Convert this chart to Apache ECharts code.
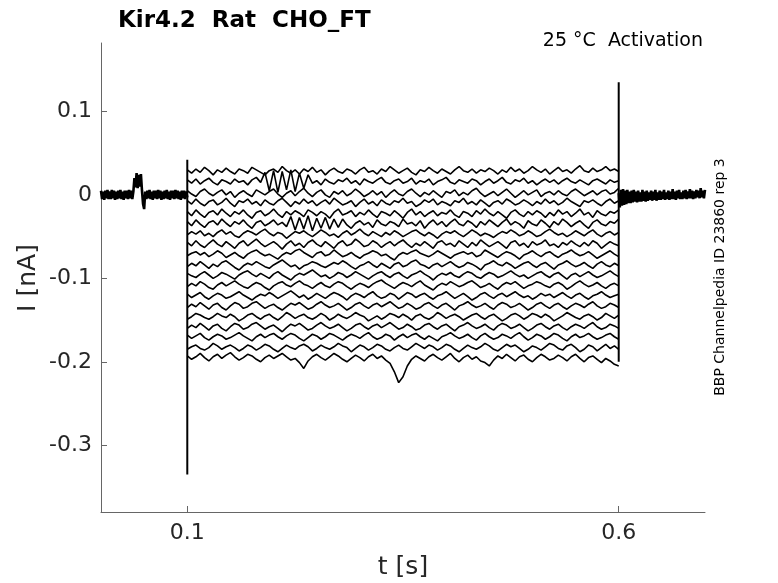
<!DOCTYPE html>
<html>
<head>
<meta charset="utf-8">
<script src="https://cdn.jsdelivr.net/npm/echarts@6/dist/echarts.min.js"></script>
<style>html,body{margin:0;padding:0;background:#fff;}#chart{width:778px;height:583px;}</style>
</head>
<body>
<div id="chart"></div>
<script>
// time samples during the voltage step [s]
const T = [.1,.105,.11,.115,.12,.125,.13,.135,.14,.145,
.15,.155,.16,.165,.17,.175,.18,.185,.19,.195,
.2,.205,.21,.215,.22,.225,.23,.235,.24,.245,
.25,.255,.26,.265,.27,.275,.28,.285,.29,.295,
.3,.305,.31,.315,.32,.325,.33,.335,.34,.345,
.35,.355,.36,.365,.37,.375,.38,.385,.39,.395,
.4,.405,.41,.415,.42,.425,.43,.435,.44,.445,
.45,.455,.46,.465,.47,.475,.48,.485,.49,.495,
.5,.505,.51,.515,.52,.525,.53,.535,.54,.545,
.55,.555,.56,.565,.57,.575,.58,.585,.59,.595,.6];

// time samples before / after the step [s]
const tPre = [0,.00125,.0025,.00375,.005,.00625,.0075,.00875,
.01,.01125,.0125,.01375,.015,.01625,.0175,.01875,
.02,.02125,.0225,.02375,.025,.02625,.0275,.02875,
.03,.03125,.0325,.03375,.035,.03625,.0375,.03875,
.04,.04125,.0425,.04375,.045,.04625,.0475,.04875,
.05,.05125,.0525,.05375,.055,.05625,.0575,.05875,
.06,.06125,.0625,.06375,.065,.06625,.0675,.06875,
.07,.07125,.0725,.07375,.075,.07625,.0775,.07875,
.08,.08125,.0825,.08375,.085,.08625,.0875,.08875,
.09,.09125,.0925,.09375,.095,.09625,.0975,.09875,.1];
const basePre = [.005,-.005,.004,-.006,.005,-.004,.006,-.005,.004,-.005,
.006,-.004,.005,-.006,.004,-.005,.005,-.004,.006,-.005,
.004,-.006,.005,-.004,.005,-.005,.006,-.004,.005,-.005,
.004,.020,.009,.026,.008,.024,.010,.025,.005,-.011,
-.017,.004,-.005,.005,-.004,.006,-.005,.004,-.006,.005,
-.004,.005,-.005,.006,-.004,.005,-.006,.004,-.005,.005,
-.004,.006,-.005,.004,-.006,.005,-.004,.005,-.005,.006,
-.004,.005,-.005,.004,-.006,.005,-.004,.005,-.005,.004,-.003];

const tPost = [.6,.60125,.6025,.60375,.605,.60625,.6075,.60875,
.61,.61125,.6125,.61375,.615,.61625,.6175,.61875,
.62,.62125,.6225,.62375,.625,.62625,.6275,.62875,
.63,.63125,.6325,.63375,.635,.63625,.6375,.63875,
.64,.64125,.6425,.64375,.645,.64625,.6475,.64875,
.65,.65125,.6525,.65375,.655,.65625,.6575,.65875,
.66,.66125,.6625,.66375,.665,.66625,.6675,.66875,
.67,.67125,.6725,.67375,.675,.67625,.6775,.67875,
.68,.68125,.6825,.68375,.685,.68625,.6875,.68875,
.69,.69125,.6925,.69375,.695,.69625,.6975,.69875,.7];
const basePost = [.002,-.015,.006,-.013,.007,-.012,.005,-.011,.006,-.010,
.004,-.010,.005,-.009,.006,-.008,.004,-.009,.005,-.008,
.003,-.008,.006,-.007,.004,-.008,.005,-.007,.003,-.006,
.005,-.007,.004,-.006,.006,-.007,.003,-.006,.005,-.006,
.004,-.005,.006,-.006,.003,-.005,.005,-.006,.004,-.005,
.007,-.005,.004,-.006,.005,-.004,.006,-.005,.003,-.005,
.005,-.004,.006,-.005,.004,-.004,.007,-.004,.005,-.005,
.004,-.004,.006,-.003,.005,-.004,.008,-.003,.005,-.004,.006];

// current sweeps during the step [nA]
const sweep01 = [.030,.026,.031,.027,.033,.029,.024,.030,.027,.032,
.028,.025,.031,.029,.026,.033,.030,.027,.024,.029,
.031,.027,.034,.029,.026,.030,.025,.031,.028,.033,
.027,.030,.024,.029,.032,.028,.026,.031,.029,.025,
.030,.033,.027,.029,.025,.031,.028,.034,.030,.026,
.029,.032,.027,.024,.030,.028,.033,.029,.026,.031,
.028,.025,.030,.034,.029,.027,.031,.026,.030,.028,
.032,.029,.025,.030,.027,.033,.028,.031,.026,.029,
.034,.030,.027,.031,.025,.029,.033,.028,.030,.026,
.031,.035,.029,.027,.032,.028,.030,.034,.029,.031,.028];
const sweep02 = [.018,.014,.019,.013,.017,.020,.015,.012,.018,.016,
.013,.019,.015,.017,.012,.018,.021,.015,.027,.005,
.029,.003,.028,.006,.030,.004,.026,.008,.024,.014,
.017,.012,.019,.015,.013,.018,.016,.020,.014,.017,
.012,.019,.016,.014,.018,.021,.015,.013,.017,.019,
.014,.016,.020,.013,.017,.015,.019,.012,.016,.018,
.021,.015,.013,.018,.016,.014,.019,.017,.012,.016,
.019,.014,.017,.021,.015,.013,.018,.016,.020,.014,
.017,.012,.016,.019,.015,.018,.013,.017,.020,.016,
.014,.018,.015,.012,.017,.019,.016,.013,.018,.015,.017];
const sweep03 = [.005,.001,-.002,.004,.007,.002,-.001,.003,.006,.000,
.004,-.003,.002,.005,.001,-.002,.006,.003,.000,.004,
.007,.001,-.003,.002,.005,-.001,.004,.008,.002,-.002,
.003,.006,.000,-.003,.004,.001,.005,-.001,.002,.007,
.003,-.002,.001,.005,.000,.004,-.003,.002,.006,.001,
-.001,.004,.007,.002,-.002,.003,.000,.005,.001,-.003,
.004,.002,.006,-.001,.003,.000,.005,.008,.002,-.002,
.001,.004,-.001,.003,.007,.002,-.003,.001,.005,.000,
.003,.006,-.002,.002,.004,.000,.005,.001,-.001,.004,
.007,.003,-.001,.002,.005,.000,.004,.006,.001,.003,.008];
const sweep04 = [-.007,-.011,-.005,-.010,-.013,-.008,-.006,-.012,-.009,-.004,
-.010,-.014,-.007,-.009,-.005,-.011,-.008,-.013,-.006,-.010,
-.012,-.007,-.004,-.009,-.014,-.008,-.011,-.005,-.010,-.007,
-.013,-.009,-.006,-.011,-.004,-.008,-.012,-.010,-.007,-.014,
-.009,-.005,-.011,-.008,-.013,-.006,-.010,-.012,-.007,-.009,
-.004,-.010,-.008,-.014,-.011,-.006,-.009,-.005,-.012,-.008,
-.010,-.013,-.007,-.009,-.004,-.011,-.008,-.012,-.006,-.010,
-.014,-.009,-.007,-.011,-.005,-.008,-.012,-.010,-.006,-.009,
-.013,-.008,-.011,-.005,-.010,-.007,-.012,-.009,-.004,-.008,
-.011,-.014,-.007,-.009,-.006,-.010,-.013,-.008,-.005,-.010,-.007];
const sweep05 = [-.020,-.025,-.018,-.023,-.027,-.021,-.019,-.024,-.017,-.022,
-.026,-.020,-.023,-.018,-.024,-.028,-.021,-.019,-.025,-.022,
-.017,-.023,-.027,-.020,-.024,-.019,-.022,-.026,-.018,-.021,
-.025,-.020,-.023,-.028,-.021,-.017,-.024,-.022,-.019,-.026,
-.021,-.024,-.018,-.023,-.027,-.020,-.022,-.025,-.019,-.023,
-.028,-.021,-.017,-.024,-.020,-.026,-.022,-.019,-.025,-.021,
-.023,-.018,-.024,-.027,-.020,-.022,-.026,-.019,-.023,-.017,
-.022,-.025,-.020,-.024,-.028,-.021,-.018,-.023,-.026,-.020,
-.024,-.019,-.022,-.027,-.021,-.025,-.018,-.023,-.020,-.026,
-.022,-.017,-.024,-.021,-.027,-.019,-.023,-.025,-.020,-.022,-.018];
const sweep06 = [-.032,-.037,-.030,-.035,-.039,-.033,-.031,-.036,-.029,-.034,
-.038,-.032,-.035,-.030,-.036,-.040,-.033,-.031,-.037,-.034,
-.030,-.036,-.033,-.038,-.026,-.042,-.027,-.041,-.025,-.043,
-.028,-.040,-.027,-.041,-.029,-.039,-.029,-.036,-.040,-.034,
-.031,-.036,-.033,-.039,-.030,-.035,-.037,-.032,-.034,-.038,
-.029,-.035,-.033,-.037,-.031,-.040,-.034,-.030,-.036,-.032,
-.038,-.033,-.029,-.035,-.037,-.031,-.034,-.039,-.032,-.036,
-.030,-.034,-.038,-.033,-.029,-.036,-.032,-.035,-.040,-.031,
-.035,-.037,-.030,-.034,-.039,-.032,-.036,-.029,-.033,-.038,
-.034,-.031,-.036,-.040,-.033,-.030,-.035,-.037,-.032,-.034,-.029];
const sweep07 = [-.048,-.044,-.047,-.043,-.049,-.046,-.050,-.045,-.042,-.047,
-.044,-.049,-.051,-.046,-.043,-.045,-.048,-.044,-.041,-.046,
-.049,-.045,-.047,-.052,-.048,-.044,-.046,-.043,-.047,-.050,
-.046,-.042,-.045,-.049,-.047,-.051,-.046,-.043,-.048,-.045,
-.041,-.046,-.049,-.044,-.047,-.050,-.045,-.048,-.043,-.046,
-.050,-.047,-.044,-.042,-.046,-.049,-.045,-.048,-.052,-.047,
-.044,-.046,-.043,-.047,-.050,-.046,-.042,-.045,-.049,-.046,
-.048,-.051,-.047,-.044,-.046,-.042,-.045,-.049,-.047,-.043,
-.046,-.050,-.048,-.044,-.041,-.045,-.048,-.046,-.050,-.047,
-.043,-.046,-.049,-.045,-.042,-.047,-.050,-.046,-.044,-.048,-.045];
const sweep08 = [-.057,-.061,-.055,-.060,-.063,-.058,-.054,-.059,-.062,-.056,
-.060,-.064,-.058,-.055,-.061,-.057,-.053,-.058,-.062,-.059,
-.056,-.060,-.065,-.059,-.055,-.061,-.058,-.063,-.057,-.054,
-.059,-.062,-.056,-.060,-.064,-.058,-.055,-.061,-.059,-.053,
-.057,-.062,-.060,-.055,-.058,-.063,-.059,-.056,-.061,-.057,
-.054,-.059,-.063,-.058,-.061,-.056,-.060,-.064,-.057,-.055,
-.060,-.058,-.062,-.055,-.059,-.063,-.057,-.061,-.054,-.058,
-.062,-.059,-.056,-.060,-.064,-.057,-.055,-.061,-.058,-.063,
-.056,-.060,-.058,-.054,-.061,-.059,-.063,-.057,-.060,-.055,
-.059,-.062,-.057,-.061,-.055,-.058,-.064,-.060,-.056,-.059,-.061];
const sweep09 = [-.073,-.070,-.068,-.072,-.069,-.074,-.071,-.067,-.070,-.075,
-.072,-.069,-.073,-.076,-.071,-.068,-.066,-.070,-.073,-.071,
-.074,-.077,-.072,-.069,-.071,-.067,-.065,-.069,-.072,-.075,
-.070,-.068,-.073,-.071,-.066,-.070,-.074,-.072,-.069,-.073,
-.076,-.072,-.070,-.067,-.069,-.073,-.071,-.075,-.078,-.072,
-.069,-.071,-.068,-.066,-.070,-.072,-.074,-.071,-.067,-.070,
-.073,-.076,-.072,-.070,-.068,-.071,-.069,-.074,-.072,-.066,
-.069,-.072,-.075,-.071,-.068,-.070,-.073,-.077,-.072,-.070,
-.067,-.071,-.074,-.070,-.068,-.072,-.075,-.071,-.069,-.066,
-.070,-.073,-.071,-.068,-.072,-.076,-.073,-.070,-.067,-.071,-.074];
const sweep10 = [-.086,-.082,-.085,-.080,-.084,-.088,-.083,-.086,-.081,-.079,
-.083,-.087,-.090,-.085,-.082,-.084,-.080,-.083,-.086,-.088,
-.084,-.081,-.078,-.082,-.086,-.084,-.089,-.085,-.083,-.080,
-.082,-.085,-.087,-.084,-.081,-.083,-.079,-.082,-.086,-.089,
-.085,-.083,-.080,-.084,-.087,-.082,-.085,-.088,-.083,-.081,
-.086,-.084,-.080,-.078,-.083,-.085,-.088,-.084,-.082,-.086,
-.083,-.080,-.084,-.087,-.085,-.081,-.083,-.086,-.090,-.084,
-.082,-.079,-.083,-.085,-.081,-.084,-.088,-.085,-.082,-.080,
-.084,-.087,-.083,-.081,-.085,-.089,-.084,-.082,-.079,-.083,
-.086,-.084,-.081,-.085,-.088,-.083,-.080,-.084,-.086,-.082,-.085];
const sweep11 = [-.094,-.097,-.099,-.095,-.092,-.096,-.100,-.097,-.093,-.095,
-.098,-.101,-.096,-.093,-.091,-.095,-.098,-.094,-.097,-.100,
-.095,-.092,-.096,-.099,-.102,-.097,-.094,-.096,-.093,-.090,
-.094,-.098,-.096,-.100,-.097,-.093,-.095,-.099,-.096,-.092,
-.095,-.098,-.101,-.097,-.094,-.092,-.096,-.099,-.095,-.093,
-.097,-.100,-.096,-.094,-.091,-.095,-.098,-.102,-.097,-.094,
-.096,-.093,-.097,-.099,-.095,-.092,-.094,-.098,-.100,-.096,
-.093,-.095,-.099,-.097,-.094,-.091,-.095,-.098,-.096,-.100,
-.097,-.094,-.092,-.096,-.099,-.095,-.093,-.097,-.101,-.096,
-.094,-.098,-.095,-.092,-.096,-.099,-.097,-.094,-.091,-.095,-.098];
const sweep12 = [-.110,-.106,-.109,-.104,-.107,-.111,-.113,-.108,-.105,-.109,
-.106,-.103,-.107,-.110,-.112,-.108,-.105,-.107,-.111,-.114,
-.109,-.106,-.104,-.108,-.110,-.106,-.103,-.107,-.109,-.112,
-.108,-.105,-.109,-.111,-.107,-.104,-.106,-.110,-.113,-.109,
-.106,-.108,-.111,-.107,-.104,-.102,-.106,-.109,-.112,-.108,
-.105,-.107,-.110,-.106,-.103,-.108,-.111,-.114,-.109,-.106,
-.108,-.104,-.107,-.110,-.108,-.105,-.103,-.107,-.111,-.109,
-.106,-.110,-.113,-.108,-.105,-.107,-.104,-.108,-.112,-.109,
-.107,-.104,-.106,-.109,-.111,-.107,-.105,-.108,-.113,-.110,
-.106,-.103,-.107,-.110,-.108,-.105,-.109,-.112,-.108,-.106,-.109];
const sweep13 = [-.119,-.123,-.120,-.117,-.122,-.125,-.121,-.118,-.120,-.124,
-.122,-.119,-.116,-.120,-.123,-.126,-.122,-.119,-.121,-.117,
-.120,-.124,-.121,-.118,-.115,-.119,-.123,-.120,-.125,-.122,
-.118,-.121,-.124,-.120,-.117,-.119,-.122,-.126,-.121,-.118,
-.120,-.123,-.119,-.116,-.121,-.124,-.122,-.118,-.120,-.125,
-.121,-.117,-.119,-.123,-.120,-.118,-.122,-.125,-.121,-.119,
-.116,-.120,-.124,-.121,-.118,-.122,-.126,-.123,-.119,-.117,
-.121,-.124,-.120,-.118,-.122,-.119,-.116,-.120,-.123,-.121,
-.125,-.122,-.118,-.121,-.119,-.123,-.120,-.117,-.121,-.124,
-.120,-.118,-.122,-.125,-.121,-.119,-.116,-.120,-.123,-.121,-.119];
const sweep14 = [-.135,-.131,-.134,-.129,-.133,-.137,-.132,-.130,-.135,-.138,
-.133,-.129,-.131,-.136,-.134,-.130,-.128,-.132,-.136,-.133,
-.131,-.135,-.138,-.134,-.130,-.132,-.129,-.133,-.137,-.135,
-.131,-.128,-.132,-.135,-.133,-.130,-.134,-.138,-.135,-.131,
-.129,-.133,-.136,-.132,-.130,-.134,-.131,-.128,-.132,-.136,
-.134,-.130,-.133,-.137,-.135,-.131,-.129,-.133,-.136,-.132,
-.130,-.134,-.138,-.133,-.131,-.128,-.132,-.135,-.133,-.130,
-.134,-.137,-.132,-.129,-.131,-.135,-.133,-.130,-.134,-.138,
-.135,-.131,-.129,-.133,-.136,-.132,-.130,-.134,-.137,-.133,
-.130,-.132,-.135,-.131,-.128,-.133,-.136,-.134,-.130,-.132,-.135];
const sweep15 = [-.149,-.146,-.142,-.144,-.147,-.149,-.146,-.142,-.145,-.147,-.143,
-.146,-.151,-.148,-.144,-.142,-.146,-.149,-.145,-.143,-.147,
-.150,-.146,-.141,-.144,-.148,-.145,-.143,-.147,-.149,-.146,
-.142,-.145,-.150,-.147,-.143,-.146,-.148,-.145,-.141,-.144,
-.146,-.151,-.148,-.145,-.149,-.146,-.142,-.144,-.147,-.143,
-.146,-.150,-.145,-.143,-.147,-.149,-.146,-.141,-.144,-.148,
-.145,-.143,-.146,-.150,-.147,-.144,-.142,-.146,-.149,-.145,
-.143,-.147,-.151,-.148,-.144,-.142,-.145,-.149,-.146,-.142,
-.144,-.147,-.143,-.146,-.151,-.148,-.145,-.141,-.144,-.147,
-.149,-.145,-.143,-.146,-.150,-.147,-.142,-.145,-.148,-.144];
const sweep16 = [-.160,-.156,-.159,-.154,-.158,-.162,-.157,-.155,-.160,-.163,
-.158,-.154,-.156,-.161,-.159,-.155,-.153,-.157,-.161,-.158,
-.156,-.160,-.164,-.159,-.155,-.157,-.154,-.158,-.162,-.160,
-.156,-.153,-.157,-.160,-.158,-.155,-.159,-.163,-.160,-.156,
-.154,-.158,-.161,-.157,-.155,-.159,-.156,-.153,-.157,-.161,
-.159,-.155,-.158,-.162,-.160,-.156,-.154,-.158,-.161,-.157,
-.155,-.159,-.163,-.158,-.156,-.153,-.157,-.160,-.158,-.155,
-.159,-.162,-.157,-.154,-.156,-.160,-.158,-.155,-.159,-.163,
-.160,-.156,-.154,-.158,-.161,-.157,-.155,-.159,-.162,-.158,
-.155,-.157,-.160,-.156,-.153,-.158,-.161,-.159,-.155,-.157,-.160];
const sweep17 = [-.168,-.172,-.169,-.166,-.171,-.174,-.170,-.167,-.169,-.173,
-.171,-.168,-.165,-.169,-.172,-.175,-.170,-.167,-.171,-.168,
-.166,-.170,-.173,-.169,-.166,-.168,-.172,-.175,-.171,-.167,
-.169,-.173,-.170,-.166,-.168,-.171,-.174,-.170,-.167,-.169,
-.172,-.168,-.165,-.170,-.173,-.171,-.167,-.169,-.174,-.170,
-.167,-.171,-.168,-.166,-.170,-.173,-.169,-.172,-.175,-.170,
-.168,-.165,-.169,-.172,-.170,-.167,-.171,-.174,-.169,-.166,
-.170,-.173,-.171,-.167,-.169,-.172,-.168,-.165,-.170,-.174,
-.171,-.167,-.169,-.173,-.170,-.166,-.168,-.172,-.175,-.170,
-.167,-.171,-.169,-.166,-.170,-.173,-.171,-.168,-.166,-.170,-.173];
const sweep18 = [-.185,-.182,-.180,-.184,-.186,-.183,-.178,-.181,-.185,-.182,-.180,
-.183,-.187,-.184,-.180,-.182,-.186,-.183,-.179,-.181,-.185,
-.188,-.184,-.180,-.183,-.185,-.181,-.179,-.182,-.187,-.184,
-.180,-.183,-.185,-.182,-.178,-.181,-.183,-.188,-.184,-.180,
-.182,-.186,-.183,-.179,-.181,-.185,-.187,-.183,-.180,-.184,
-.186,-.182,-.178,-.181,-.184,-.180,-.182,-.186,-.183,-.179,
-.181,-.185,-.188,-.184,-.180,-.183,-.185,-.182,-.178,-.181,
-.185,-.187,-.183,-.179,-.182,-.180,-.184,-.188,-.185,-.181,
-.183,-.186,-.182,-.178,-.180,-.184,-.186,-.181,-.179,-.183,
-.188,-.185,-.180,-.182,-.187,-.183,-.179,-.184,-.181,-.185];
const sweep19 = [-.193,-.197,-.194,-.190,-.195,-.199,-.194,-.191,-.196,-.192,
-.189,-.194,-.198,-.195,-.191,-.193,-.197,-.200,-.195,-.192,
-.196,-.193,-.190,-.194,-.198,-.196,-.201,-.208,-.199,-.194,
-.191,-.195,-.198,-.194,-.190,-.193,-.197,-.200,-.196,-.192,
-.195,-.199,-.194,-.191,-.196,-.193,-.198,-.202,-.212,-.225,
-.218,-.205,-.197,-.193,-.196,-.199,-.194,-.191,-.195,-.198,
-.194,-.190,-.196,-.200,-.195,-.192,-.197,-.194,-.199,-.201,
-.205,-.198,-.193,-.196,-.191,-.195,-.199,-.194,-.192,-.197,
-.200,-.195,-.191,-.194,-.198,-.196,-.192,-.195,-.199,-.194,
-.191,-.196,-.200,-.195,-.193,-.197,-.201,-.196,-.199,-.203,-.205];
const sweeps = [sweep01,sweep02,sweep03,sweep04,sweep05,sweep06,sweep07,sweep08,sweep09,sweep10,
  sweep11,sweep12,sweep13,sweep14,sweep15,sweep16,sweep17,sweep18,sweep19];

// capacitive transients at step on / off
const spikeOnT = [0.1, 0.1];
const spikeOnI = [0.042, -0.335];
const spikeOffT = [0.6, 0.6];
const spikeOffI = [-0.2, 0.135];

// axis ticks
const xTicks = [0.1, 0.6];
const yTicks = [-0.3, -0.2, -0.1, 0, 0.1];

const FONT = '"DejaVu Sans", "Liberation Sans", sans-serif';
function pairs(t, v) { return t.map((x, i) => [x, v[i]]); }
function line(data, w) {
  return { type: 'line', data: data, showSymbol: false, symbol: 'none', silent: true,
    lineStyle: { color: '#000', width: w }, itemStyle: { color: '#000' }, animation: false };
}

const series = [];
sweeps.forEach(s => series.push(line(pairs(T, s), 1.6)));
series.push(line(pairs(tPre, basePre), 2.6));
series.push(line(pairs(tPost, basePost), 2.6));
series.push(line(pairs(spikeOnT, spikeOnI), 2));
series.push(line(pairs(spikeOffT, spikeOffI), 2));

const chart = echarts.init(document.getElementById('chart'), null, { renderer: 'canvas' });
chart.setOption({
  animation: false,
  backgroundColor: '#fff',
  title: {
    text: 'Kir4.2  Rat  CHO_FT', left: 113, top: 5,
    textStyle: { fontFamily: FONT, fontSize: 23, fontWeight: 'bold', color: '#000' }
  },
  grid: { left: 101, right: 73, top: 43, bottom: 71, containLabel: false, outerBoundsMode: 'none' },
  xAxis: {
    type: 'value', min: 0, max: 0.7,
    axisLine: { show: true, onZero: false, lineStyle: { color: '#666', width: 1 } },
    axisTick: { show: true, inside: true, length: 6, customValues: xTicks, lineStyle: { color: '#666' } },
    axisLabel: { customValues: xTicks, fontFamily: FONT, fontSize: 22, color: '#262626', margin: 10 },
    splitLine: { show: false }
  },
  yAxis: {
    type: 'value', min: -0.38, max: 0.182,
    axisLine: { show: true, onZero: false, lineStyle: { color: '#666', width: 1 } },
    axisTick: { show: true, inside: true, length: 6, customValues: yTicks, lineStyle: { color: '#666' } },
    axisLabel: { customValues: yTicks, fontFamily: FONT, fontSize: 22, color: '#262626', margin: 9 },
    splitLine: { show: false }
  },
  graphic: [
    { type: 'text', x: 703, y: 41, style: { text: '25 °C  Activation', fontFamily: FONT, fontSize: 19,
      fill: '#000', align: 'right', textAlign: 'right', verticalAlign: 'middle', textVerticalAlign: 'middle' } },
    { type: 'text', x: 720, y: 277, rotation: Math.PI / 2, style: { text: 'BBP Channelpedia ID 23860 rep 3',
      fontFamily: FONT, fontSize: 14, fill: '#000', align: 'center', textAlign: 'center',
      verticalAlign: 'middle', textVerticalAlign: 'middle' } },
    { type: 'text', x: 28, y: 278, rotation: Math.PI / 2, style: { text: 'I [nA]', fontFamily: FONT, fontSize: 25,
      fill: '#262626', align: 'center', textAlign: 'center', verticalAlign: 'middle', textVerticalAlign: 'middle' } },
    { type: 'text', x: 403, y: 567, style: { text: 't [s]', fontFamily: FONT, fontSize: 25,
      fill: '#262626', align: 'center', textAlign: 'center', verticalAlign: 'middle', textVerticalAlign: 'middle' } }
  ],
  series: series
});
</script>
</body>
</html>
